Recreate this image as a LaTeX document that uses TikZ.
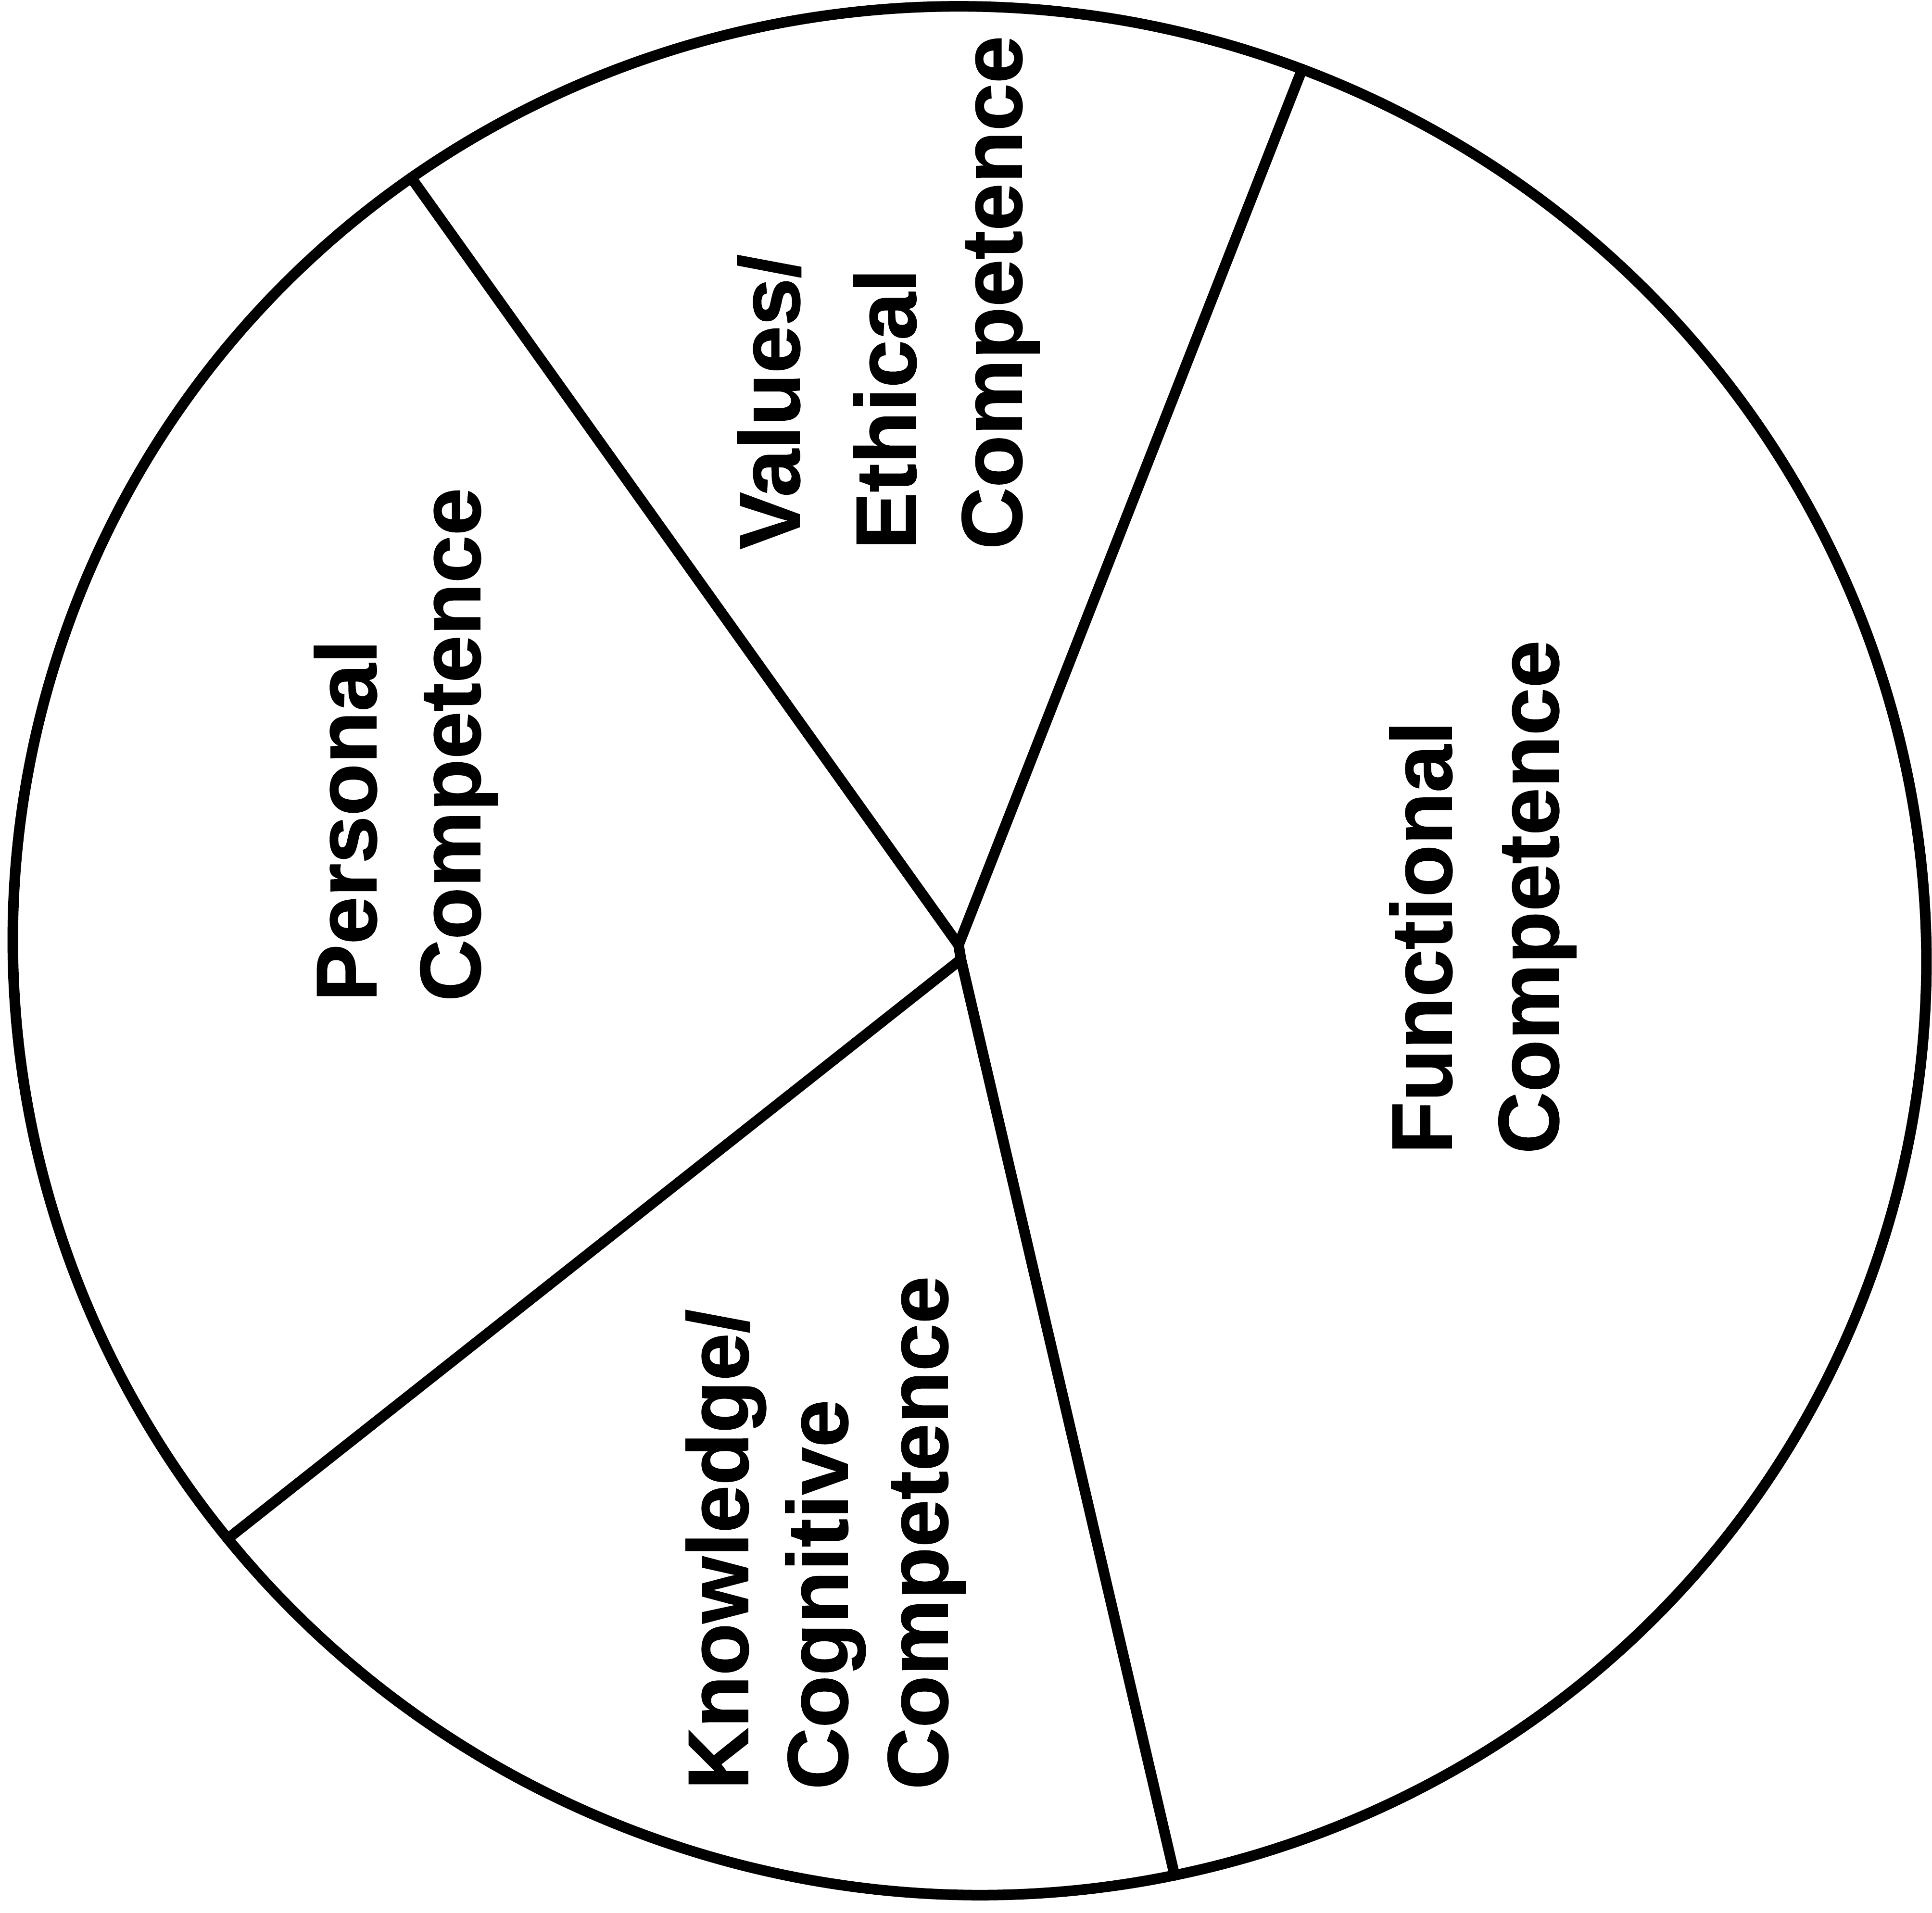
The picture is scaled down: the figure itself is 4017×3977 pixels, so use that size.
\documentclass[tikz,border=0pt]{standalone}
\usepackage{fontspec}
\newfontfamily\lblfam{Liberation Sans}[FakeBold=1]
\usetikzlibrary{calc,intersections}

\tikzset{
  rimline/.style={line width=0.22cm},
  spoke/.style={line width=0.22cm, line cap=round, line join=round},
  lbl/.style={rotate=90, inner sep=0pt, anchor=base west,
    font=\lblfam\bfseries\fontsize{50.6pt}{60pt}\selectfont}
}

\begin{document}
\begin{tikzpicture}[x=0.01cm, y=-0.01cm]
  \useasboundingbox (0,0) rectangle (4017,3977);

  % outer rim of the pie
  \coordinate (ctr) at (2016,1977);
  \draw[rimline, name path=rim, rotate around={-20.6:(ctr)}]
    (ctr) ellipse [x radius=19.92cm, y radius=19.58cm];

  % the two hub points where the dividing lines meet
  \coordinate (hubA) at (1993,1965);
  \coordinate (hubB) at (1998,1995);

  % rays from the hubs, cut where they meet the rim
  \path[name path=rayA] (hubA) -- ($(hubA)!1.1!(848,360)$);
  \path[name path=rayB] (hubA) -- ($(hubA)!1.1!(2705,150)$);
  \path[name path=rayC] (hubB) -- ($(hubB)!1.1!(477,3197)$);
  \path[name path=rayD] (hubB) -- ($(hubB)!1.1!(2443,3903)$);
  \path[name intersections={of=rim and rayA, by=endA}];
  \path[name intersections={of=rim and rayB, by=endB}];
  \path[name intersections={of=rim and rayC, by=endC}];
  \path[name intersections={of=rim and rayD, by=endD}];

  % dividing lines
  \draw[spoke] (endA) -- (hubA) -- (endB);
  \draw[spoke] (hubA) -- (hubB);
  \draw[spoke] (endC) -- (hubB) -- (endD);

  % slice labels
  \node[lbl] (persA) at (782,2083) {Personal};
  \node[lbl] (persB) at (998,2083) {Competence};

  \node[lbl] (valA) at (1662,1143) {Values/};
  \node[lbl] (valB) at (1904,1143) {Ethical};
  \node[lbl] (valC) at (2124,1143) {Competence};

  \node[lbl] (knowA) at (1555,3722) {Knowledge/};
  \node[lbl] (knowB) at (1762,3722) {Cognitive};
  \node[lbl] (knowC) at (1970,3722) {Competence};

  \node[lbl] (funcA) at (3018,2400) {Functional};
  \node[lbl] (funcB) at (3240,2400) {Competence};
\end{tikzpicture}
\end{document}
